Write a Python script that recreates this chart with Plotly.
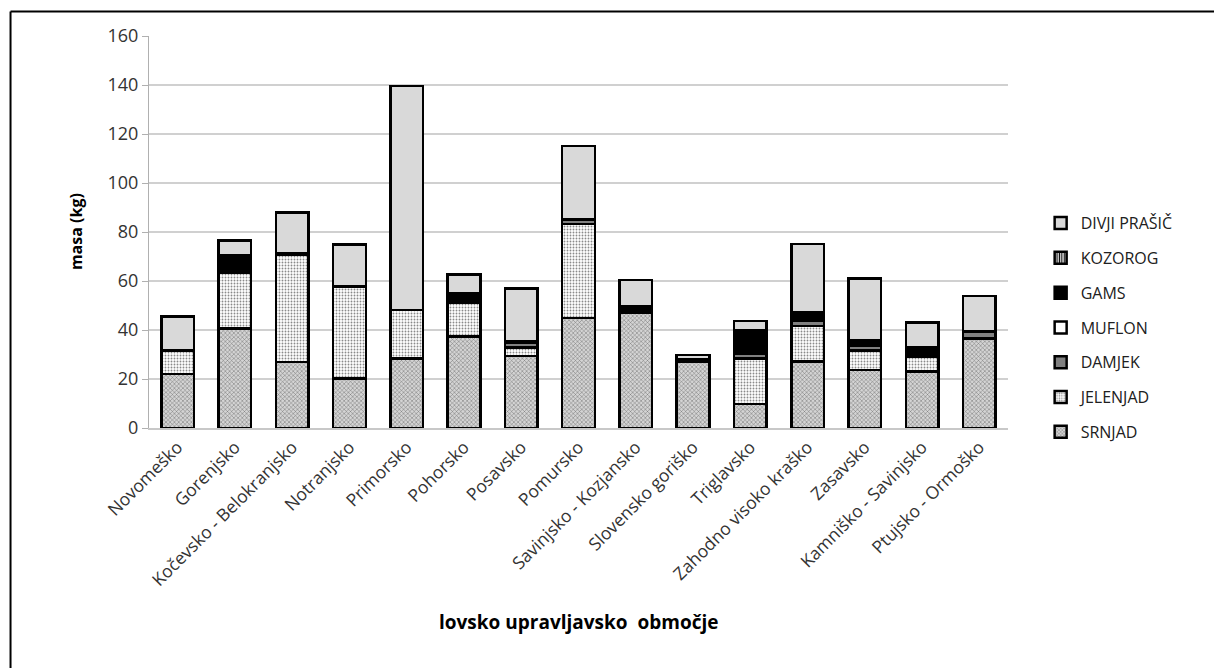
import plotly.graph_objects as go

regije = ['Novomeško', 'Gorenjsko', 'Kočevsko - Belokranjsko', 'Notranjsko', 'Primorsko',
          'Pohorsko', 'Posavsko', 'Pomursko', 'Savinjsko - Kozjansko', 'Slovensko goriško',
          'Triglavsko', 'Zahodno visoko kraško', 'Zasavsko', 'Kamniško - Savinjsko', 'Ptujsko - Ormoško']

srnjad = [22, 40.7, 27, 20.3, 28.4, 37.3, 29.4, 44.8, 47.1, 27.1, 9.8, 27.1, 23.7, 23, 36.6]
jelenjad = [9.5, 22.8, 43.9, 37.4, 19.8, 13.9, 3.5, 38.5, 0, 0, 18.6, 14.5, 8, 6, 0]
damjek = [0.3, 1.2, 0.5, 0, 0, 0.5, 2, 1.9, 0.5, 0.8, 2.1, 2.1, 2, 0, 2.7]
muflon = [0, 0, 0, 0, 0, 0, 0.5, 0, 0, 0, 0, 0, 1, 0, 0]
gams = [0, 6, 0, 0, 0, 3.5, 0, 0, 2.2, 0, 9.2, 3.4, 1, 4.1, 0]
kozorog = [0] * 15
divji_prasic = [13.7, 5.8, 16.6, 17.3, 91.4, 7.5, 21.6, 29.9, 10.6, 1.9, 4, 28, 25.4, 10, 14.6]

# (ime, podatki, barva ozadja, vzorec) - od spodaj navzgor
serije = [
    ('SRNJAD', srnjad, '#d4d4d4', dict(shape='x', size=3, solidity=0.3, fgcolor='#707070')),
    ('JELENJAD', jelenjad, '#ffffff', dict(shape='.', size=3, solidity=0.3, fgcolor='#8a8a8a')),
    ('DAMJEK', damjek, '#808080', None),
    ('MUFLON', muflon, '#ffffff', None),
    ('GAMS', gams, '#000000', None),
    ('KOZOROG', kozorog, '#ffffff', dict(shape='|', size=3, solidity=0.5, fgcolor='#000000')),
    ('DIVJI PRAŠIČ', divji_prasic, '#d9d9d9', None),
]

fig = go.Figure()
for i, (ime, vals, barva, vzorec) in enumerate(serije):
    marker = dict(color=barva, line=dict(color='#000000', width=2.5))
    if vzorec:
        p = dict(vzorec)
        p['bgcolor'] = barva
        p['fillmode'] = 'replace'
        marker['pattern'] = p
    fig.add_trace(go.Bar(x=regije, y=vals, name=ime, legendgroup=ime,
                         legendrank=len(serije) - i, marker=marker))

font = 'Open Sans, sans-serif'
fig.update_layout(
    barmode='stack',
    bargap=0.43,
    width=1214, height=660,
    margin=dict(l=141, r=214, t=28, b=240),
    plot_bgcolor='white', paper_bgcolor='white',
    font=dict(family=font, size=16, color='#404040'),
    legend=dict(x=1.038, y=0.566, xanchor='left', yanchor='top',
                traceorder='grouped', tracegroupgap=11,
                font=dict(size=16, color='#202020')),
    xaxis=dict(tickangle=-45, showline=True, linecolor='#c8c8c8', linewidth=2,
               ticks='', tickfont=dict(size=17.5, color='#333333')),
    yaxis=dict(range=[0, 160], dtick=20, showgrid=True, gridcolor='#d0d0d0', gridwidth=2,
               showline=True, linecolor='#b0b0b0', linewidth=1, ticks='outside',
               ticklen=6, tickcolor='#b0b0b0', zeroline=False,
               tickfont=dict(size=18, color='#333333')),
    annotations=[
        dict(text='<b>masa (kg)</b>', textangle=-90, xref='paper', yref='paper',
             x=-0.1, y=0.5, showarrow=False, font=dict(size=16, color='#000000')),
        dict(text='<b>lovsko upravljavsko  območje</b>', xref='paper', yref='paper',
             x=0.5, y=-0.533, showarrow=False, font=dict(size=19, color='#000000')),
    ],
    shapes=[
        dict(type='line', xref='paper', yref='paper', x0=-0.1612, x1=1.3, y0=1.0625, y1=1.0625,
             line=dict(color='#000000', width=2)),
        dict(type='line', xref='paper', yref='paper', x0=-0.1612, x1=-0.1612, y0=1.0625, y1=-0.7,
             line=dict(color='#000000', width=2)),
    ],
)

fig.write_html('out.html')
